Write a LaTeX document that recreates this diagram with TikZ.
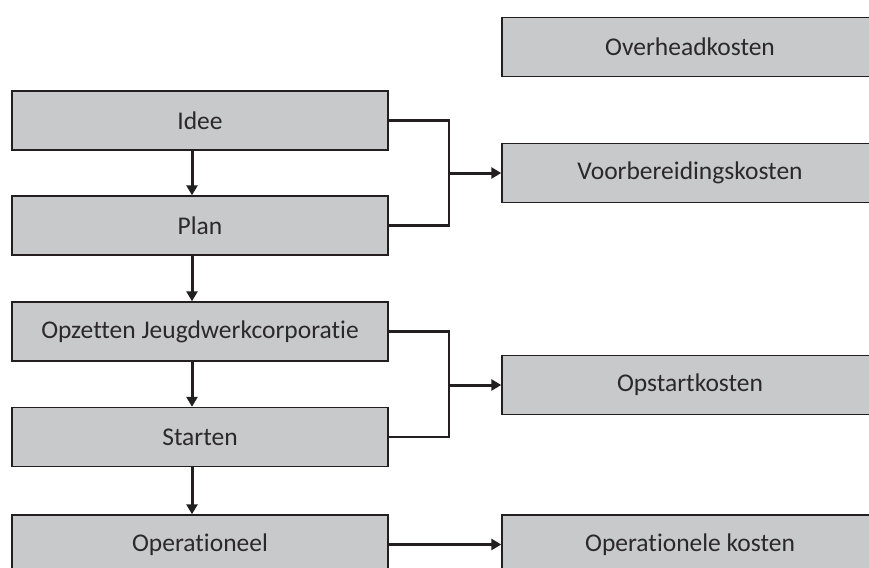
\documentclass[tikz,border=0pt]{standalone}
\usepackage{fontspec}
\setmainfont{Carlito}[Ligatures=NoCommon]
\usetikzlibrary{arrows.meta,positioning,calc}
\definecolor{boxgray}{HTML}{C8C9CB}
\definecolor{boxline}{HTML}{231F20}
\definecolor{boxtext}{HTML}{2B2829}

\begin{document}
\begin{tikzpicture}[x=1pt, y=-1pt,
  box/.style={draw=boxline, fill=boxgray, line width=1.4pt, minimum width=376pt,
    minimum height=59pt, inner sep=0pt, text=boxtext, font=\fontsize{25.5}{30}\selectfont},
  flow/.style={draw=boxline, line width=3pt, -{Triangle[width=11pt,length=10pt]}},
  joinline/.style={draw=boxline, line width=2.3pt}]

  % ---- Frame ----
  \useasboundingbox (0,0) rectangle (869,567);
  \clip (0,0) rectangle (869,567);

  % ---- Phases (left) ----
  \node[box] (idee)    at (200,120.5) {Idee};
  \node[box] (plan)    at (200,225.5) {Plan};
  \node[box] (opzet)   at (200,331.5) {Opzetten Jeugdwerkcorporatie};
  \node[box] (starten) at (200,437)   {Starten};
  \node[box] (oper)    at (200,544.5) {Operationeel};

  % ---- Costs (right) ----
  \node[box] (overhead) at (690,47)    {Overheadkosten};
  \node[box] (voorb)    at (690,173)   {Voorbereidingskosten};
  \node[box] (opstart)  at (690,385)   {Opstartkosten};
  \node[box] (operk)    at (690,544.5) {Operationele kosten};

  % ---- Flow between phases ----
  \draw[flow] ([xshift=-8pt]idee.south)    -- ([xshift=-8pt]plan.north);
  \draw[flow] ([xshift=-8pt]plan.south)    -- ([xshift=-8pt]opzet.north);
  \draw[flow] ([xshift=-8pt]opzet.south)   -- ([xshift=-8pt]starten.north);
  \draw[flow] ([xshift=-8pt]starten.south) -- ([xshift=-8pt]oper.north);

  % ---- Brackets to costs ----
  \coordinate (jv) at (449,173);
  \draw[joinline] (idee.east) -| (jv |- plan.east) -- (plan.east);
  \draw[flow] (jv) -- (voorb.west);

  \coordinate (jo) at (449,385);
  \draw[joinline] (opzet.east) -| (jo |- starten.east) -- (starten.east);
  \draw[flow] (jo) -- (opstart.west);

  \draw[flow] (oper.east) -- (operk.west);

\end{tikzpicture}
\end{document}
